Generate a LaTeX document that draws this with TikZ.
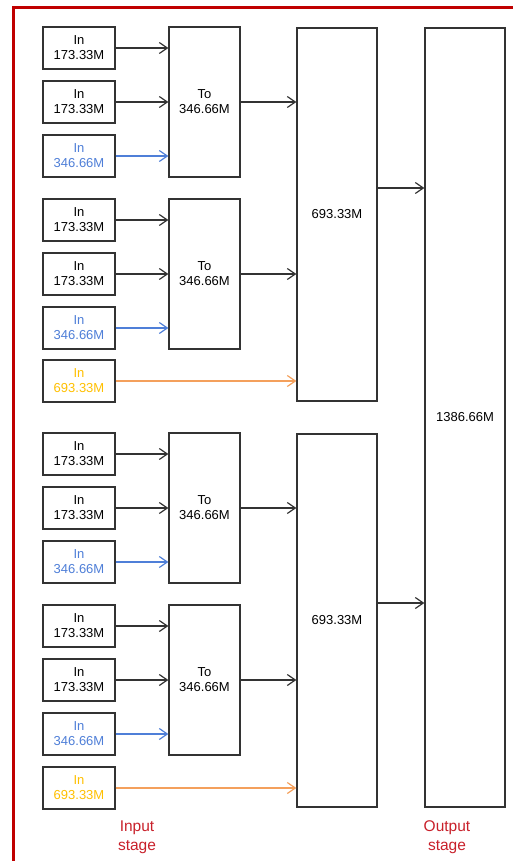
\documentclass[tikz,border=0pt]{standalone}
\usepackage{fontspec}
\setmainfont{Liberation Sans}
\usetikzlibrary{arrows.meta}
\definecolor{boxgray}{HTML}{333333}
\definecolor{bluec}{HTML}{4F7FD8}
\definecolor{yellowc}{HTML}{FFC000}
\definecolor{orangec}{HTML}{F4A05C}
\definecolor{redborder}{HTML}{C00000}
\definecolor{redtext}{HTML}{C8202A}
\tikzset{
  box/.style={draw=boxgray, line width=1.3pt, fill=white, inner sep=0pt, align=center,
    font=\fontsize{13}{15}\selectfont},
  inbox/.style={box, minimum width=72pt, minimum height=42pt},
  tobox/.style={box, minimum width=71pt, minimum height=150pt},
  midbox/.style={box, minimum width=80pt, minimum height=373pt},
  outbox/.style={box, minimum width=80pt, minimum height=779pt},
  conn/.style={draw=boxgray, line width=1.3pt, -{Straight Barb[length=8pt,width=11pt,line width=1.2pt]}},
  bconn/.style={conn, draw=bluec},
  oconn/.style={conn, draw=orangec},
  stagelbl/.style={text=redtext, align=center, font=\fontsize{15.5}{19}\selectfont},
}
\begin{document}
\begin{tikzpicture}[x=1pt,y=-1pt]
\useasboundingbox (0,0) rectangle (513,861);
\draw[redborder, line width=3pt] (513,8) -- (13,8) -- (13,861);

% output and mid boxes
\node[outbox] (out) at (465,417.5) {1386.66M};
\node[midbox] (m1) at (337,214.5) {693.33M};
\node[midbox] (m2) at (337,620.5) {693.33M};

% To boxes
\node[tobox] (t1) at (204.5,102) {To\\346.66M};
\node[tobox] (t2) at (204.5,274) {To\\346.66M};
\node[tobox] (t3) at (204.5,508) {To\\346.66M};
\node[tobox] (t4) at (204.5,680) {To\\346.66M};

% input boxes
\foreach \g/\y in {1/48,2/220,3/454,4/626}{
  \node[inbox] (i\g a) at (79,\y) {In\\173.33M};
  \node[inbox] (i\g b) at (79,\y+54) {In\\173.33M};
  \node[inbox, text=bluec] (i\g c) at (79,\y+108) {In\\346.66M};
}
\node[inbox, text=yellowc] (o1) at (79,381) {In\\693.33M};
\node[inbox, text=yellowc] (o2) at (79,788) {In\\693.33M};

% connectors into To boxes
\foreach \g in {1,2,3,4}{
  \draw[conn] (i\g a.east) -- (i\g a.east -| t\g.west);
  \draw[conn] (i\g b.east) -- (i\g b.east -| t\g.west);
  \draw[bconn] (i\g c.east) -- (i\g c.east -| t\g.west);
}
% To -> mid
\draw[conn] (t1.east) -- (t1.east -| m1.west);
\draw[conn] (t2.east) -- (t2.east -| m1.west);
\draw[conn] (t3.east) -- (t3.east -| m2.west);
\draw[conn] (t4.east) -- (t4.east -| m2.west);
% orange
\draw[oconn] (o1.east) -- (o1.east -| m1.west);
\draw[oconn] (o2.east) -- (o2.east -| m2.west);
% mid -> out
\coordinate (a1) at (377,188);
\coordinate (a2) at (377,603);
\draw[conn] (a1) -- (a1 -| out.west);
\draw[conn] (a2) -- (a2 -| out.west);

% stage labels
\node[stagelbl] (lin) at (137,837.5) {Input\\stage};
\node[stagelbl] (lout) at (447,837.5) {Output\\stage};
\end{tikzpicture}
\end{document}
